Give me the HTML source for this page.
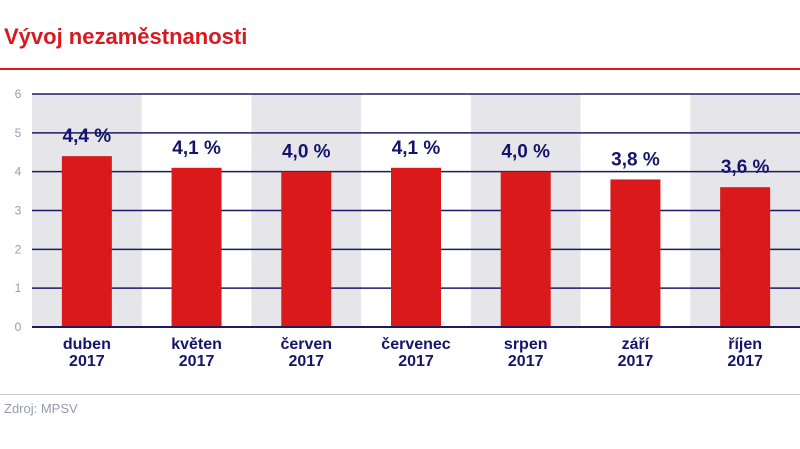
<!DOCTYPE html>
<html><head><meta charset="utf-8"><style>
body{margin:0;width:800px;height:449px;background:#fff;overflow:hidden;font-family:"Liberation Sans","DejaVu Sans",sans-serif}
</style></head><body>
<div style="position:absolute;left:4px;top:24px;font-size:22px;font-weight:bold;color:#d71920">Vývoj nezaměstnanosti</div>
<div style="position:absolute;left:0;top:68px;width:800px;height:2px;background:#d71920"></div>
<svg id="chart" width="800" height="449" style="position:absolute;left:0;top:0"></svg>
<div style="position:absolute;left:0;top:394px;width:800px;height:1px;background:#c8c8d0"></div>
<div style="position:absolute;left:4px;top:401px;font-size:13px;color:#9a9aae">Zdroj: MPSV</div>
<script>
const categories=["duben","květen","červen","červenec","srpen","září","říjen"];
const years=["2017","2017","2017","2017","2017","2017","2017"];
const values=[4.4,4.1,4.0,4.1,4.0,3.8,3.6];
const valueLabels=["4,4 %","4,1 %","4,0 %","4,1 %","4,0 %","3,8 %","3,6 %"];
const ticks=[0,1,2,3,4,5,6];
const svg=document.getElementById('chart');
const NS="http://www.w3.org/2000/svg";
const x0=32,x1=800,y0=327,yTop=94,maxV=6;
const bw=(x1-x0)/categories.length;
const y=v=>y0-(v/maxV)*(y0-yTop);
const xc=i=>x0+bw*i+bw/2;
function mk(t,a){const e=document.createElementNS(NS,t);for(const k in a)e.setAttribute(k,a[k]);svg.appendChild(e);return e;}
categories.forEach((c,i)=>{if(i%2===0){const r=mk('rect',{x:x0+bw*i,y:yTop,width:bw,height:y0-yTop,fill:'#e6e6ea'});

}});
ticks.forEach(t=>{const l=mk('line',{x1:x0,x2:x1,y1:y(t),y2:y(t),stroke:'#1c1c66','stroke-width':t===0?2:1.5});


const tx=mk('text',{x:18,y:y(t)+4,'text-anchor':'middle','font-size':12,fill:'#9a9aae'});


tx.textContent=t;});
values.forEach((v,i)=>{const b=mk('rect',{x:xc(i)-25,y:y(v),width:50,height:y0-y(v)-1,fill:'#da1a1a'});


const vl=mk('text',{x:xc(i),y:y(v)-14,'text-anchor':'middle','font-size':19,'font-weight':'bold',fill:'#14146a'});


vl.textContent=valueLabels[i];
const c1=mk('text',{x:xc(i),y:349,'text-anchor':'middle','font-size':16,'font-weight':'bold',fill:'#14146a'});


c1.textContent=categories[i];
const c2=mk('text',{x:xc(i),y:366,'text-anchor':'middle','font-size':16,'font-weight':'bold',fill:'#14146a'});


c2.textContent=years[i];});
</script>
</body></html>
